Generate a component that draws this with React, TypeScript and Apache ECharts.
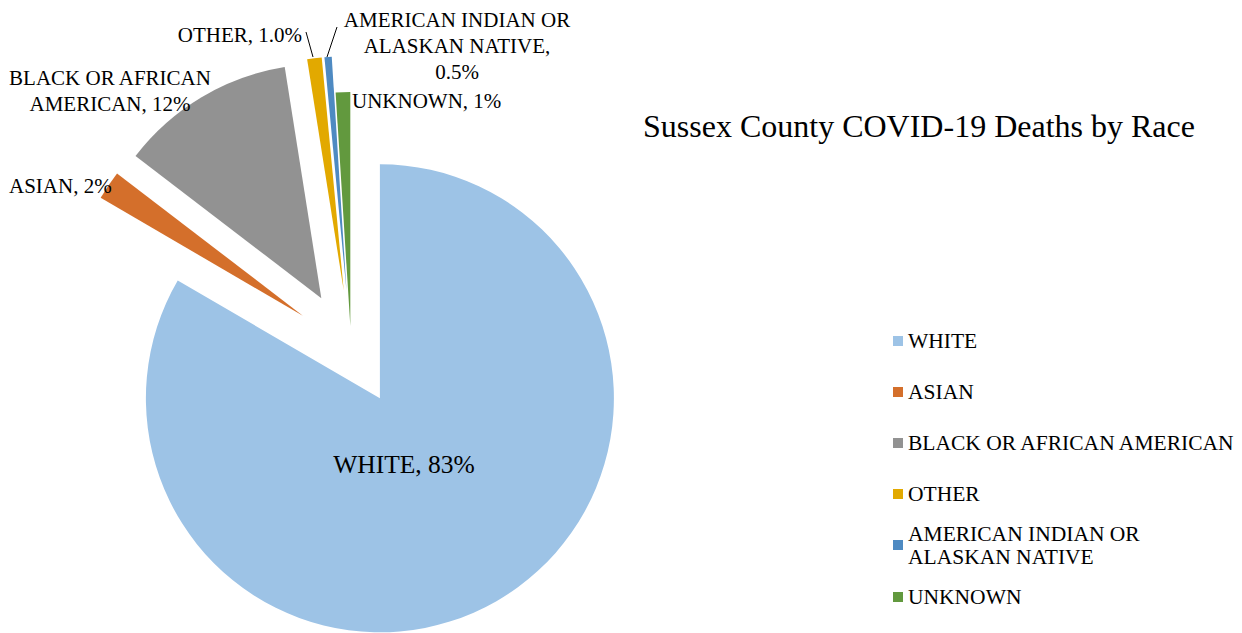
import React, { useEffect, useRef } from "react";
import * as echarts from "echarts";

const categories = [
  "WHITE",
  "ASIAN",
  "BLACK OR AFRICAN AMERICAN",
  "OTHER",
  "AMERICAN INDIAN OR ALASKAN NATIVE",
  "UNKNOWN",
];
const values = [83.4, 2.0, 12.1, 1.0, 0.5, 1.0];
const percentLabels = ["83%", "2%", "12%", "1.0%", "0.5%", "1%"];
const dataLabelNames = [
  "WHITE, ",
  "ASIAN, ",
  "BLACK OR AFRICAN\nAMERICAN, ",
  "OTHER, ",
  "AMERICAN INDIAN OR\nALASKAN NATIVE,\n",
  "UNKNOWN, ",
];
const legendLabels = [
  "WHITE",
  "ASIAN",
  "BLACK OR AFRICAN AMERICAN",
  "OTHER",
  "AMERICAN INDIAN OR\nALASKAN NATIVE",
  "UNKNOWN",
];
const colors = ["#9DC3E6", "#D46F2B", "#929292", "#E2A900", "#4E8AC2", "#62993E"];
const titleText = "Sussex County COVID-19 Deaths by Race";

// placement of each data label
const labelLayouts: any[] = [
  { x: 404, y: 464, align: "center", fontSize: 25.5, lineHeight: 30 },
  { x: 9, y: 186, align: "left", fontSize: 21, lineHeight: 26 },
  { x: 110, y: 91, align: "center", fontSize: 21, lineHeight: 26 },
  { x: 302, y: 35, align: "right", fontSize: 21, lineHeight: 26, line: [[313, 57], [306, 32]] },
  { x: 457, y: 46, align: "center", fontSize: 21, lineHeight: 26, line: [[327, 57], [337, 27]] },
  { x: 352, y: 101, align: "left", fontSize: 21, lineHeight: 26 },
];

const FONT = "'Liberation Serif', 'Times New Roman', serif";

export default function App() {
  const ref = useRef<HTMLDivElement>(null);
  useEffect(() => {
    if (!ref.current) return;
    const chart = echarts.init(ref.current, undefined, { renderer: "svg" });

    const makeData = (visible: (i: number) => boolean) =>
      categories.map((name, i) => ({
        name,
        value: values[i],
        selected: true,
        itemStyle: { color: visible(i) ? colors[i] : "rgba(0,0,0,0)" },
      }));

    const baseSeries = {
      type: "pie",
      center: [351, 348],
      radius: 234,
      startAngle: 90,
      clockwise: true,
      selectedMode: "multiple",
      avoidLabelOverlap: false,
      silent: true,
      emphasis: { disabled: true },
      label: { show: false },
      labelLine: { show: false },
    };

    const legendCommon = {
      orient: "vertical",
      left: 893,
      padding: 0,
      itemWidth: 10,
      itemHeight: 10,
      icon: "rect",
      selectedMode: false,
      textStyle: { fontFamily: FONT, fontSize: 21.5, color: "#000", lineHeight: 23 },
      formatter: (name: string) => legendLabels[categories.indexOf(name)],
    };
    const legendItem = (i: number, extra: any = {}) => ({
      name: categories[i],
      itemStyle: { color: colors[i] },
      ...extra,
    });

    const labelGraphics: any[] = [];
    categories.forEach((_, i) => {
      const l = labelLayouts[i];
      labelGraphics.push({
        type: "text",
        x: l.x,
        y: l.y,
        z: 100,
        silent: true,
        style: {
          text: dataLabelNames[i] + percentLabels[i],
          fontFamily: FONT,
          fontSize: l.fontSize,
          lineHeight: l.lineHeight,
          fill: "#000",
          align: l.align,
          verticalAlign: "middle",
          textAlign: l.align,
          textVerticalAlign: "middle",
        },
      });
      if (l.line) {
        labelGraphics.push({
          type: "line",
          z: 100,
          silent: true,
          shape: { x1: l.line[0][0], y1: l.line[0][1], x2: l.line[1][0], y2: l.line[1][1] },
          style: { stroke: "#000", lineWidth: 1 },
        });
      }
    });

    chart.setOption({
      animation: false,
      title: {
        text: titleText,
        left: 643,
        top: 110,
        padding: 0,
        textStyle: { fontFamily: FONT, fontSize: 32, fontWeight: "normal", color: "#000" },
      },
      legend: [
        { ...legendCommon, top: 329.5, itemGap: 28, data: [0, 1, 2, 3].map((i) => legendItem(i)) },
        {
          ...legendCommon,
          top: 510.5,
          data: [legendItem(4, { textStyle: { padding: [23, 0, 0, 0] } })],
        },
        { ...legendCommon, top: 585.5, data: [legendItem(5)] },
      ],
      graphic: labelGraphics,
      series: [
        { ...baseSeries, selectedOffset: 58, data: makeData((i) => i !== 5) },
        { ...baseSeries, selectedOffset: 22, data: makeData((i) => i === 5) },
      ],
    });
    return () => chart.dispose();
  }, []);
  return (
    <div
      ref={ref}
      style={{ position: "absolute", left: 0, top: 0, width: 1242, height: 633, background: "#fff" }}
    />
  );
}
